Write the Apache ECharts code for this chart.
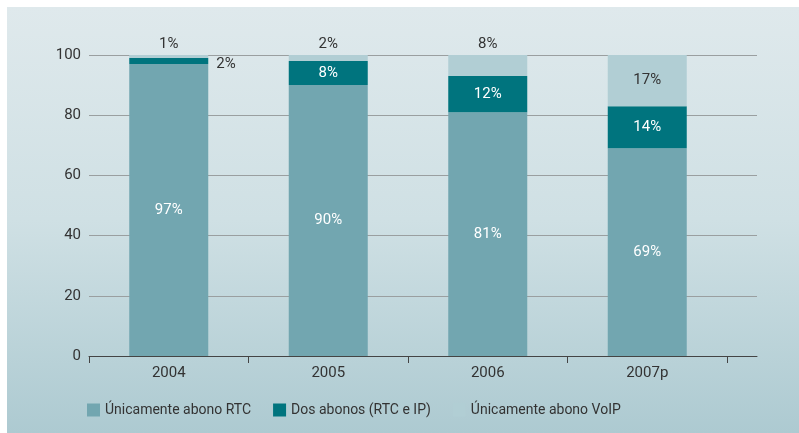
<!DOCTYPE html>
<html><head><meta charset="utf-8">
<script src="https://cdn.jsdelivr.net/npm/echarts@6/dist/echarts.min.js"></script>
<style>html,body{margin:0;padding:0;background:#fff}#c{width:799px;height:433px}</style>
</head><body><div id="c"></div>
<script>
const categories = ['2004', '2005', '2006', '2007p'];
const seriesNames = ['Únicamente abono RTC', 'Dos abonos (RTC e IP)', 'Únicamente abono VoIP'];
const rtc = [97, 90, 81, 69];
const dos = [2, 8, 12, 14];
const voip = [1, 2, 8, 17];
const yTicks = [0, 20, 40, 60, 80, 100];

const FONT = 'Roboto';
const FS = 15;
const colors = ['#72a6b0', '#00747e', '#b1ced4'];

const chart = echarts.init(document.getElementById('c'), null, {renderer: 'canvas'});

function pct(v) { return v + '%'; }

const dosData = dos.map((v, i) => {
  if (i === 0) return {value: v, label: {show: true, position: 'right', color: '#333', offset: [3, 3]}};
  return {value: v};
});
const voipData = voip.map((v, i) => {
  if (i === 3) return {value: v, label: {show: true, position: 'inside', color: '#333'}};
  return {value: v, label: {show: true, position: 'top', color: '#333', distance: 3}};
});

chart.setOption({
  animation: false,
  graphic: [{
    type: 'rect', z: -10, silent: true,
    shape: {x: 7, y: 7, width: 792, height: 426},
    style: {fill: new echarts.graphic.LinearGradient(0, 0, 0, 1, [
      {offset: 0, color: '#dfe9ec'},
      {offset: 0.5, color: '#cfe0e4'},
      {offset: 1, color: '#adcad1'}
    ])}
  }],
  textStyle: {fontFamily: FONT},
  legend: {
    left: 82, top: 398, itemWidth: 13, itemHeight: 13, itemGap: 22,
    icon: 'rect',
    textStyle: {fontFamily: FONT, fontSize: 14, color: '#333'},
    data: seriesNames
  },
  grid: [
    {left: 89, right: 42, top: 55, bottom: 77},
    {left: 89, right: 72, top: 55, bottom: 77}
  ],
  xAxis: [
    {type: 'value', gridIndex: 0, min: 0, max: 1, show: true,
     axisLine: {show: true, lineStyle: {color: '#444', width: 1}},
     axisTick: {show: false}, axisLabel: {show: false}, splitLine: {show: false}},
    {type: 'category', gridIndex: 1, data: categories,
     axisLine: {show: false},
     axisTick: {show: true, length: 7, lineStyle: {color: '#444'}},
     axisLabel: {fontFamily: FONT, fontSize: FS, color: '#333', margin: 10}}
  ],
  yAxis: [
    {type: 'value', gridIndex: 0, min: 0, max: 100, interval: 20,
     axisLine: {show: false}, axisTick: {show: false},
     axisLabel: {fontFamily: FONT, fontSize: FS, color: '#333', margin: 8,
       formatter: v => yTicks.includes(v) ? String(v) : ''},
     splitLine: {show: true, lineStyle: {color: '#9a9fa0', width: 1}}},
    {type: 'value', gridIndex: 1, min: 0, max: 100, show: false}
  ],
  series: [
    {name: seriesNames[0], type: 'bar', stack: 's', xAxisIndex: 1, yAxisIndex: 1,
     barWidth: 79, itemStyle: {color: colors[0]}, data: rtc,
     label: {show: true, position: 'inside', color: '#fff', fontFamily: FONT, fontSize: FS, formatter: p => pct(p.value)}},
    {name: seriesNames[1], type: 'bar', stack: 's', xAxisIndex: 1, yAxisIndex: 1,
     barWidth: 79, itemStyle: {color: colors[1]}, data: dosData,
     label: {show: true, position: 'inside', color: '#fff', fontFamily: FONT, fontSize: FS, formatter: p => pct(p.value)}},
    {name: seriesNames[2], type: 'bar', stack: 's', xAxisIndex: 1, yAxisIndex: 1,
     barWidth: 79, itemStyle: {color: colors[2]}, data: voipData,
     label: {show: true, fontFamily: FONT, fontSize: FS, formatter: p => pct(p.value)}}
  ]
});
</script></body></html>
